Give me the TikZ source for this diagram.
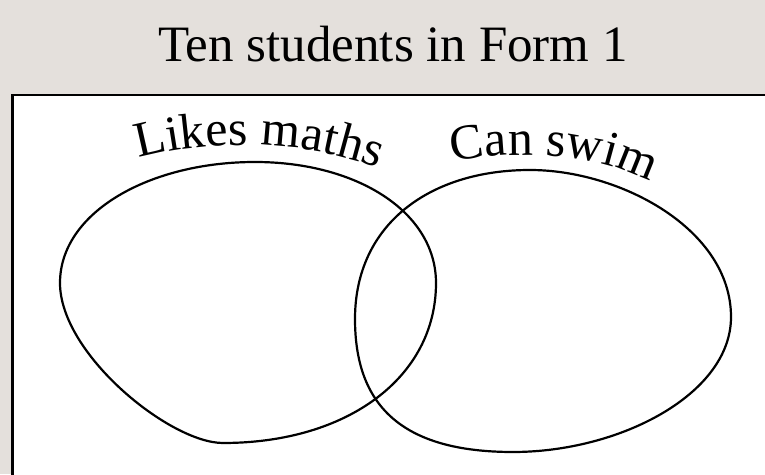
\documentclass[tikz,border=0pt]{standalone}
\usepackage{fontspec}
\setmainfont{Liberation Serif}
\usetikzlibrary{decorations.text}
\definecolor{bggray}{HTML}{E4E0DC}
\tikzset{
  oval/.style={draw=black, line width=2.2pt, line join=round},
  frame/.style={draw=black, fill=white, line width=2.6pt},
  curvedlabel/.style={decorate, decoration={text along path, text align=center, text={#1}}}
}
\begin{document}
\begin{tikzpicture}[x=1pt,y=1pt]
\useasboundingbox (0,0) rectangle (765,474);
\clip (0,0) rectangle (765,474);
\fill[bggray] (0,0) rectangle (765,474);
\node[font=\fontsize{51}{60}\selectfont, anchor=base] (title) at (393,412) {Ten students in Form 1};
\draw[frame] (12.5,379) rectangle (790,-20);
% Likes maths oval
\coordinate (LT) at (255,312);
\coordinate (LR) at (436,191);
\coordinate (LB) at (223,31);
\coordinate (LL) at (60,191);
\draw[oval] (LT) .. controls (357,312) and (436,262) .. (LR)
  .. controls (436,97) and (348,31) .. (LB)
  .. controls (170,31) and (60,120) .. (LL)
  .. controls (60,262) and (150,312) .. (LT) -- cycle;
% Can swim oval
\coordinate (RT) at (530,304);
\coordinate (RR) at (731,157);
\coordinate (RB) at (513,22);
\coordinate (RL) at (355,155);
\draw[oval] (RT) .. controls (620,304) and (731,245) .. (RR)
  .. controls (731,80) and (620,22) .. (RB)
  .. controls (400,22) and (355,70) .. (RL)
  .. controls (355,250) and (430,304) .. (RT) -- cycle;
% labels
\path[curvedlabel={|\fontsize{50}{60}\selectfont|Likes maths}]
  (120,310) .. controls (195,337) and (315,337) .. (395,298);
\path[curvedlabel={|\fontsize{50}{60}\selectfont|Can swim}]
  (438,308) .. controls (503,326) and (603,324) .. (663,284);
\end{tikzpicture}
\end{document}
